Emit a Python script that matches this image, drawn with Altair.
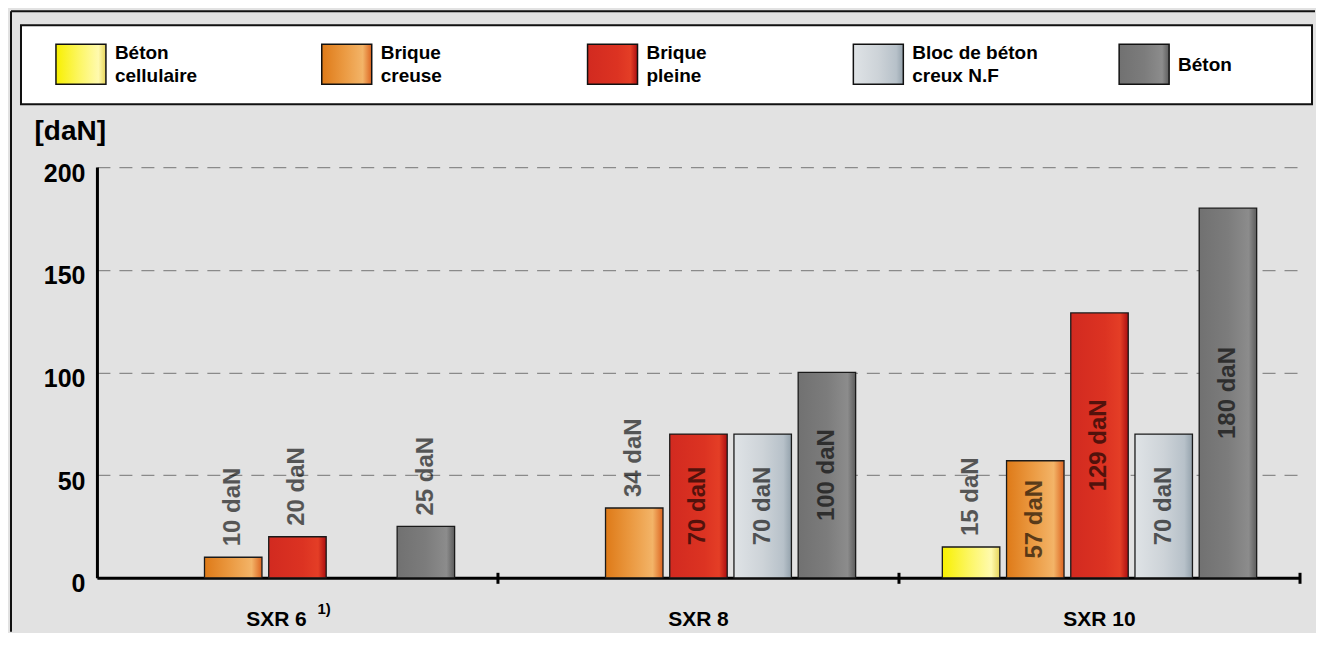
import altair as alt
import pandas as pd

# ---------------- data ----------------
groups = ["SXR 6", "SXR 8", "SXR 10"]
footnotes = ["1)", "", ""]
materials = ["Béton cellulaire", "Brique creuse", "Brique pleine",
             "Bloc de béton creux N.F", "Béton"]
legend_labels = ["Béton\ncellulaire", "Brique\ncreuse", "Brique\npleine",
                 "Bloc de béton\ncreux N.F", "Béton"]
beton_cellulaire = [None, None, 15]
brique_creuse = [10, 34, 57]
brique_pleine = [20, 70, 129]
bloc_beton = [None, 70, 70]
beton = [25, 100, 180]
y_ticks = [0, 50, 100, 150, 200]

series = [beton_cellulaire, brique_creuse, brique_pleine, bloc_beton, beton]
rows = []
for m, vals in zip(materials, series):
    for g, v in zip(groups, vals):
        if v is not None:
            rows.append({"group": g, "material": m, "value": v})
df = pd.DataFrame(rows)
legend_df = pd.DataFrame({"material": materials, "label": legend_labels})
group_df = pd.DataFrame({"group": groups, "note": footnotes})

# ---------------- styles ----------------
FONT = "Liberation Sans, Arial, Helvetica, sans-serif"


def grad(stops):
    return {"gradient": "linear", "x1": 0, "x2": 1, "y1": 0, "y2": 0,
            "stops": [{"offset": o, "color": c} for o, c in stops]}


fills = {
    "Béton cellulaire": grad([(0, "#f8f000"), (0.45, "#fcf660"), (0.85, "#fffaae"), (1, "#e6d45a")]),
    "Brique creuse": grad([(0, "#de7a18"), (0.45, "#eb9a42"), (0.82, "#f3b468"), (1, "#dc6420")]),
    "Brique pleine": grad([(0, "#d22a20"), (0.6, "#dc3322"), (0.86, "#e43e26"), (1, "#ac0e10")]),
    "Bloc de béton creux N.F": grad([(0, "#dfe3e6"), (0.5, "#cdd3d8"), (0.86, "#b7c1c9"), (1, "#94a2ac")]),
    "Béton": grad([(0, "#717171"), (0.5, "#7c7c7c"), (0.86, "#8c8c8c"), (1, "#5c5c5c")]),
}

x_scale = alt.Scale(domain=groups, paddingInner=0, paddingOuter=0)
xoff_scale = alt.Scale(domain=materials, paddingInner=0.105, paddingOuter=0.675)
x_axis = alt.Axis(title=None, labelAngle=0, labelFont=FONT, labelFontSize=21,
                  labelFontWeight="bold", labelColor="black", labelPadding=31,
                  labelOffset={"condition": {"test": "datum.label == 'SXR 6'", "value": -21},
                               "value": 0},
                  ticks=False, tickSize=0, domainColor="black", domainWidth=3,
                  labelBaseline="top")
y_axis = alt.Axis(values=y_ticks, title="[daN]", titleAngle=0, titleAlign="left",
                  titleBaseline="alphabetic", titleX=-63, titleY=-28,
                  titleFont=FONT, titleFontSize=28, titleFontWeight="bold",
                  titleColor="black", labelFont=FONT, labelFontSize=25,
                  labelFontWeight="bold", labelColor="black", labelPadding=12,
                  labelOffset=6, labelFlush=False, labelOverlap=False,
                  ticks=False, tickSize=0, domainColor="black", domainWidth=3,
                  grid=True, gridColor="#8a8a8a", gridDash=[13, 9], gridWidth=1.3)
y_scale = alt.Scale(domain=[0, 200], nice=False)

X = alt.X("group:N", scale=x_scale, axis=x_axis, sort=groups)
XO = alt.XOffset("material:N", scale=xoff_scale, sort=materials)
Y = alt.Y("value:Q", scale=y_scale, axis=y_axis)

# ---------------- main plot ----------------
bar_layers = []
for m in materials:
    bar_layers.append(
        alt.Chart(df).transform_filter(alt.datum.material == m)
        .mark_bar(fill=fills[m], stroke="#1a1a1a", strokeWidth=1.3, opacity=1)
        .encode(x=X, xOffset=XO, y=Y)
    )

labels_out = (
    alt.Chart(df).transform_filter("datum.value < 50")
    .transform_calculate(lab="datum.value + ' daN'")
    .mark_text(angle=270, align="left", baseline="middle", dx=11, font=FONT,
               fontSize=24, fontWeight="bold", fill="#000000", opacity=0.62)
    .encode(x=X, xOffset=XO, y=Y, text="lab:N")
)
labels_in = (
    alt.Chart(df).transform_filter("datum.value >= 50")
    .transform_calculate(lab="datum.value + ' daN'", mid="datum.value / 2")
    .mark_text(angle=270, align="center", baseline="middle", font=FONT,
               fontSize=24, fontWeight="bold", fill="#000000", opacity=0.62)
    .encode(x=X, xOffset=XO, y=alt.Y("mid:Q", scale=y_scale, axis=y_axis),
            text="lab:N")
)
ticks = (
    alt.Chart(group_df).mark_rule(color="black", strokeWidth=3)
    .encode(x=alt.X("group:N", scale=x_scale, axis=x_axis, sort=groups, bandPosition=1),
            y=alt.value(406), y2=alt.value(417))
)
notes = (
    alt.Chart(group_df).transform_filter("datum.note != ''")
    .mark_text(align="left", baseline="top", dx=20, font=FONT, fontSize=15,
               fontWeight="bold", fill="black")
    .encode(x=X, y=alt.value(435), text="note:N")
)
main = alt.layer(*bar_layers, labels_out, labels_in, ticks, notes)

# ---------------- legend ----------------
one = alt.InlineData(values=[{"k": 1}])
leg_box = alt.Chart(one).mark_rect(fill="white", stroke="#111111", strokeWidth=2).encode(
    x=alt.value(-76), x2=alt.value(1216), y=alt.value(-142), y2=alt.value(-63))
leg_scale = alt.Scale(domain=materials, range=[-41, 1073], paddingInner=0.812, paddingOuter=0)
LX = alt.X("material:N", scale=leg_scale, axis=None, sort=materials)
swatches = []
for m in materials:
    swatches.append(
        alt.Chart(legend_df).transform_filter(alt.datum.material == m)
        .mark_rect(fill=fills[m], stroke="#111111", strokeWidth=1.5)
        .encode(x=LX, y=alt.value(-123), y2=alt.value(-83))
    )
text_style = dict(align="left", baseline="middle", dx=34, lineBreak="\n", lineHeight=23,
                  font=FONT, fontSize=19, fontWeight="bold", fill="black")
leg_text2 = (
    alt.Chart(legend_df).transform_filter("indexof(datum.label, '\\n') >= 0")
    .mark_text(**text_style)
    .encode(x=LX, y=alt.value(-114), text="label:N")
)
leg_text1 = (
    alt.Chart(legend_df).transform_filter("indexof(datum.label, '\\n') < 0")
    .mark_text(**text_style)
    .encode(x=LX, y=alt.value(-102), text="label:N")
)
legend = alt.layer(leg_box, *swatches, leg_text2, leg_text1)

# ---------------- frame ----------------
left_line = alt.Chart(one).mark_rule(color="#111111", strokeWidth=2).encode(
    x=alt.value(-86), y=alt.value(-156), y2=alt.value(465))
top_line = alt.Chart(one).mark_rule(color="#111111", strokeWidth=2).encode(
    x=alt.value(-86), x2=alt.value(1219), y=alt.value(-156))
frame = alt.layer(left_line, top_line)

chart = (
    alt.layer(frame, legend, main)
    .resolve_scale(x="independent")
    .properties(width=1204, height=411,
                padding={"left": 2, "top": 2, "right": 0, "bottom": 0})
    .configure(background="#e2e2e2")
    .configure_view(stroke=None)
)

chart.save("out.html", embed_options={"renderer": "svg", "actions": False})
